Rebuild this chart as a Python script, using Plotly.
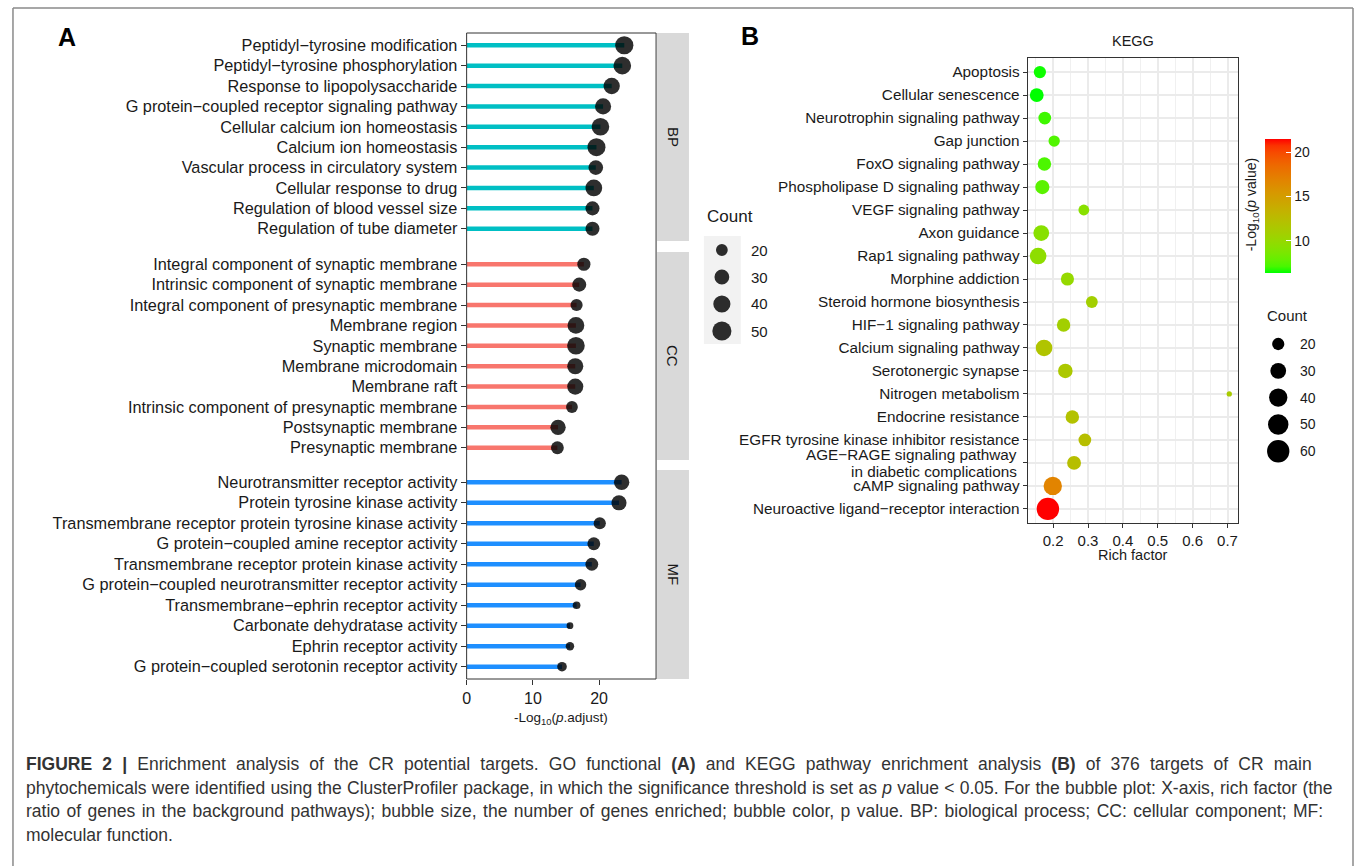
import numpy as np
import plotly.graph_objects as go

# ---------------- data ----------------
bp_terms = ["Peptidyl−tyrosine modification", "Peptidyl−tyrosine phosphorylation",
            "Response to lipopolysaccharide", "G protein−coupled receptor signaling pathway",
            "Cellular calcium ion homeostasis", "Calcium ion homeostasis",
            "Vascular process in circulatory system", "Cellular response to drug",
            "Regulation of blood vessel size", "Regulation of tube diameter"]
bp_vals = [23.8, 23.5, 21.9, 20.6, 20.2, 19.6, 19.5, 19.2, 19.0, 19.0]
bp_counts = [45, 42, 36, 35, 42, 44, 29, 38, 27, 27]

cc_terms = ["Integral component of synaptic membrane", "Intrinsic component of synaptic membrane",
            "Integral component of presynaptic membrane", "Membrane region", "Synaptic membrane",
            "Membrane microdomain", "Membrane raft", "Intrinsic component of presynaptic membrane",
            "Postsynaptic membrane", "Presynaptic membrane"]
cc_vals = [17.7, 17.0, 16.6, 16.5, 16.5, 16.4, 16.4, 15.9, 13.8, 13.7]
cc_counts = [24, 27, 21, 38, 42, 35, 35, 20, 32, 23]

mf_terms = ["Neurotransmitter receptor activity", "Protein tyrosine kinase activity",
            "Transmembrane receptor protein tyrosine kinase activity",
            "G protein−coupled amine receptor activity",
            "Transmembrane receptor protein kinase activity",
            "G protein−coupled neurotransmitter receptor activity",
            "Transmembrane−ephrin receptor activity", "Carbonate dehydratase activity",
            "Ephrin receptor activity", "G protein−coupled serotonin receptor activity"]
mf_vals = [23.4, 23.0, 20.1, 19.2, 18.9, 17.2, 16.6, 15.6, 15.6, 14.4]
mf_counts = [32, 31, 21, 23, 23, 19, 12, 11, 13, 15]

kegg_terms = ["Apoptosis", "Cellular senescence", "Neurotrophin signaling pathway", "Gap junction",
              "FoxO signaling pathway", "Phospholipase D signaling pathway", "VEGF signaling pathway",
              "Axon guidance", "Rap1 signaling pathway", "Morphine addiction",
              "Steroid hormone biosynthesis", "HIF−1 signaling pathway", "Calcium signaling pathway",
              "Serotonergic synapse", "Nitrogen metabolism", "Endocrine resistance",
              "EGFR tyrosine kinase inhibitor resistance",
              "AGE−RAGE signaling pathway<br>in diabetic complications",
              "cAMP signaling pathway", "Neuroactive ligand−receptor interaction"]
kegg_rich = [0.162, 0.153, 0.176, 0.203, 0.175, 0.169, 0.288, 0.166, 0.157, 0.241,
             0.311, 0.230, 0.174, 0.235, 0.705, 0.255, 0.291, 0.260, 0.199, 0.185]
kegg_counts = [20, 24, 21, 18, 23, 25, 17, 30, 33, 22, 19, 23, 33, 26, 12, 23, 21, 24, 40, 60]
kegg_logp = [6.5, 6.36, 7.0, 7.3, 7.2, 7.6, 9.3, 9.3, 9.6, 10.0,
             10.8, 10.8, 11.8, 11.5, 11.2, 12.0, 12.3, 12.3, 16.8, 21.5]

xA_ticks = [0, 10, 20]
xB_ticks = [0.2, 0.3, 0.4, 0.5, 0.6, 0.7]
cbar_ticks = [10, 15, 20]
countA_breaks = [20, 30, 40, 50]
countB_breaks = [20, 30, 40, 50, 60]

# ---------------- helpers ----------------
W, H = 1355, 866
def px(x): return x / W
def py(y): return 1 - y / H

def sizeA(c):
    c = np.asarray(c, float)
    return 2.95 * (1.5 + 5 * np.sqrt(np.clip((c - 10) / 40, 0, None)))

def sizeB(c):
    c = np.asarray(c, float)
    return 3.53 * (1.5 + 5 * np.sqrt(np.clip((c - 12) / 51, 0, None)))

def _lin(c):
    c = c / 255
    return np.where(c <= 0.04045, c / 12.92, ((c + 0.055) / 1.055) ** 2.4)
def _gam(c):
    c = np.where(c <= 0.0031308, 12.92 * c, 1.055 * np.clip(c, 0, None) ** (1 / 2.4) - 0.055)
    return np.clip(np.round(c * 255), 0, 255).astype(int)
M = np.array([[0.4124, 0.3576, 0.1805], [0.2126, 0.7152, 0.0722], [0.0193, 0.1192, 0.9505]])
WP = np.array([0.95047, 1.0, 1.08883])
def rgb2lab(rgb):
    xyz = M @ _lin(np.array(rgb, float)) / WP
    f = np.where(xyz > 216 / 24389, np.cbrt(xyz), (24389 / 27 * xyz + 16) / 116)
    return np.array([116 * f[1] - 16, 500 * (f[0] - f[1]), 200 * (f[1] - f[2])])
def lab2rgb(lab):
    L, a, b = lab
    fy = (L + 16) / 116; fx = fy + a / 500; fz = fy - b / 200
    f = np.array([fx, fy, fz])
    xyz = np.where(f ** 3 > 216 / 24389, f ** 3, (116 * f - 16) / (24389 / 27)) * WP
    return _gam(np.linalg.solve(M, xyz))
lo, hi = rgb2lab([0, 255, 0]), rgb2lab([255, 0, 0])
colorscale = []
for t in np.linspace(0, 1, 21):
    r, g, b = lab2rgb(lo + (hi - lo) * t)
    colorscale.append([float(t), f"rgb({r},{g},{b})"])

FONT = "Arial, Liberation Sans, Helvetica, sans-serif"
TXT = "#1a1a1a"
DOT = "rgba(0,0,0,0.82)"
fig = go.Figure()

annotations = []
def ann(x, y, text, size, xanchor="center", angle=0, color=TXT, family=FONT):
    annotations.append(dict(x=px(x), y=py(y), xref="paper", yref="paper", showarrow=False,
                            xanchor=xanchor, yanchor="middle", textangle=angle, text=text,
                            font=dict(size=size, color=color, family=family)))

# ---------------- Panel A ----------------
groups = [("y", bp_terms, bp_vals, bp_counts, "#00BFC4"),
          ("y2", cc_terms, cc_vals, cc_counts, "#F8766D"),
          ("y3", mf_terms, mf_vals, mf_counts, "#1E8FFF")]
for yref, terms, vals, counts, col in groups:
    lx, ly = [], []
    for t, v in zip(terms, vals):
        lx += [0, v, None]; ly += [t, t, None]
    fig.add_trace(go.Scatter(x=lx, y=ly, mode="lines", xaxis="x", yaxis=yref,
                             line=dict(color=col, width=4.5), showlegend=False, hoverinfo="skip"))
    fig.add_trace(go.Scatter(x=vals, y=terms, mode="markers", xaxis="x", yaxis=yref,
                             marker=dict(size=sizeA(counts), color=DOT, opacity=1, line=dict(width=0)),
                             showlegend=False))

yax_common = dict(type="category", categoryorder="array", ticks="outside", ticklen=5,
                  tickcolor="#333", tickwidth=1, showgrid=False, zeroline=False, showline=False,
                  tickfont=dict(size=16.3, color=TXT, family=FONT), anchor="x", range=[9.6, -0.6])
fig.update_layout(
    xaxis=dict(domain=[px(464), px(654)], anchor="y3", range=[0, 28.6], tickvals=xA_ticks,
               ticks="outside", ticklen=5, tickcolor="#333", showgrid=False, zeroline=False,
               showline=False, tickfont=dict(size=16, color=TXT, family=FONT)),
    yaxis=dict(domain=[py(241), py(33)], categoryarray=bp_terms, **yax_common),
    yaxis2=dict(domain=[py(460), py(252)], categoryarray=cc_terms, **yax_common),
    yaxis3=dict(domain=[py(679), py(470)], categoryarray=mf_terms, **yax_common),
)

shapes = []
shapes.append(dict(type="rect", xref="paper", yref="paper", x0=px(464), x1=px(654),
                   y0=py(679), y1=py(33), line=dict(color="#333", width=1)))
strip_labels = [("BP", 33, 241), ("CC", 252, 460), ("MF", 470, 679)]
for lab, y0, y1 in strip_labels:
    shapes.append(dict(type="rect", xref="paper", yref="paper", x0=px(655), x1=px(687),
                       y0=py(y1), y1=py(y0), line=dict(width=0), fillcolor="#D9D9D9", layer="below"))
    ann(671, (y0 + y1) / 2, lab, 15, angle=90)

ann(559, 718, "-Log<sub>10</sub>(<i>p</i>.adjust)", 13.5)
# Count legend A
shapes.append(dict(type="rect", xref="paper", yref="paper", x0=px(702), x1=px(739),
                   y0=py(344), y1=py(236), line=dict(width=0), fillcolor="#F2F2F2", layer="below"))
ann(703, 217, "Count", 17, xanchor="left")
for i, c in enumerate(countA_breaks):
    cy = 250 + i * 27; d = float(sizeA(c))
    shapes.append(dict(type="circle", xref="paper", yref="paper", x0=px(720 - d / 2), x1=px(720 + d / 2),
                       y0=py(cy + d / 2), y1=py(cy - d / 2), line=dict(width=0), fillcolor=DOT))
    ann(747, cy, str(c), 15, xanchor="left")

# ---------------- Panel B ----------------
fig.add_trace(go.Scatter(
    x=kegg_rich, y=kegg_terms, mode="markers", xaxis="x2", yaxis="y4", showlegend=False,
    marker=dict(size=sizeB(kegg_counts), color=kegg_logp, colorscale=colorscale, cmin=6.36, cmax=21.5,
                line=dict(width=0), opacity=1,
                colorbar=dict(x=px(1265), xanchor="left", y=py(139), yanchor="top", len=134, lenmode="pixels",
                              thickness=26, thicknessmode="pixels", tickvals=cbar_ticks, ticks="inside",
                              tickcolor="white", ticklen=5, outlinewidth=0, xpad=0, ypad=0,
                              tickfont=dict(size=14, color=TXT, family=FONT)))))

# two-line label drawn with tighter line spacing as in the reference
kegg_ticktext = ["" if "<br>" in t else t for t in kegg_terms]
fig.update_layout(
    xaxis2=dict(domain=[px(1026.7), px(1238)], anchor="y4", range=[0.127, 0.731], tickvals=xB_ticks,
                ticktext=[f"{v:.1f}" for v in xB_ticks], ticks="outside", ticklen=4, tickcolor="#333",
                showgrid=True, gridcolor="#EBEBEB", gridwidth=1.6, zeroline=False,
                showline=True, mirror=True, linecolor="#333", linewidth=1,
                minor=dict(showgrid=True, dtick=0.1, tick0=0.15, gridcolor="#F0F0F0", gridwidth=0.8),
                tickfont=dict(size=15, color=TXT, family=FONT)),
    yaxis4=dict(domain=[py(522.7), py(58.3)], anchor="x2", type="category", categoryorder="array",
                categoryarray=kegg_terms, tickmode="array", tickvals=kegg_terms, ticktext=kegg_ticktext,
                range=[19.6, -0.6], ticks="outside", ticklen=4, tickcolor="#333",
                showgrid=True, gridcolor="#EBEBEB", gridwidth=1.6, zeroline=False,
                showline=True, mirror=True, linecolor="#333", linewidth=1,
                tickfont=dict(size=15.3, color=TXT, family=FONT)),
)
for t in kegg_terms:
    if "<br>" in t:
        i = kegg_terms.index(t)
        yc = 71.7 + i * 23.03
        for k, part in enumerate(t.split("<br>")):
            ann(1018, yc - 8.3 + k * 16.8, part, 15.3, xanchor="right")

ann(1132, 41, "KEGG", 14.5)
ann(1132, 555, "Rich factor", 14.5)
ann(1252, 205, "-Log<sub>10</sub>(<i>p</i> value)", 14, angle=-90)
ann(1265, 315, "Count", 15, xanchor="left")
for i, c in enumerate(countB_breaks):
    cy = 344 + i * 26.8; d = float(sizeB(c))
    shapes.append(dict(type="circle", xref="paper", yref="paper", x0=px(1278 - d / 2), x1=px(1278 + d / 2),
                       y0=py(cy + d / 2), y1=py(cy - d / 2), line=dict(width=0), fillcolor="black"))
    ann(1298, cy, str(c), 14, xanchor="left")

# panel letters
ann(63, 37, "<b>A</b>", 25, color="black")
ann(748, 36, "<b>B</b>", 25, color="black")

# caption (justified-looking lines via word spacing)
caption = ["<b>FIGURE 2 |</b> Enrichment analysis of the CR potential targets. GO functional <b>(A)</b> and KEGG pathway enrichment analysis <b>(B)</b> of 376 targets of CR main",
           "phytochemicals were identified using the ClusterProfiler package, in which the significance threshold is set as <i>p</i> value &lt; 0.05. For the bubble plot: X-axis, rich factor (the",
           "ratio of genes in the background pathways); bubble size, the number of genes enriched; bubble color, p value. BP: biological process; CC: cellular component; MF:",
           "molecular function."]
word_gap = [5.3, 0.4, 1.6, 0]
for i, line in enumerate(caption):
    txt = f'<span style="word-spacing:{word_gap[i]}px">{line}</span>' if word_gap[i] else line
    ann(20, 764 + i * 23.7, txt, 17.5, xanchor="left", color="#333")

# outer frame
for x0, y0, x1, y1 in [(9, 8, 1353, 8), (9, 8, 9, 880), (1353, 8, 1353, 880)]:
    shapes.append(dict(type="line", xref="paper", yref="paper", x0=px(x0), y0=py(y0), x1=px(x1), y1=py(y1),
                       line=dict(color="#8a8a8a", width=1.5)))

fig.update_layout(width=W, height=H, autosize=False, margin=dict(l=0, r=0, t=0, b=0),
                  paper_bgcolor="white", plot_bgcolor="white", shapes=shapes, annotations=annotations,
                  font=dict(family=FONT, color=TXT), showlegend=False)
fig.write_html("out.html", config={"displayModeBar": False},
               post_script="document.body.style.margin='0';document.body.style.overflow='hidden';")
